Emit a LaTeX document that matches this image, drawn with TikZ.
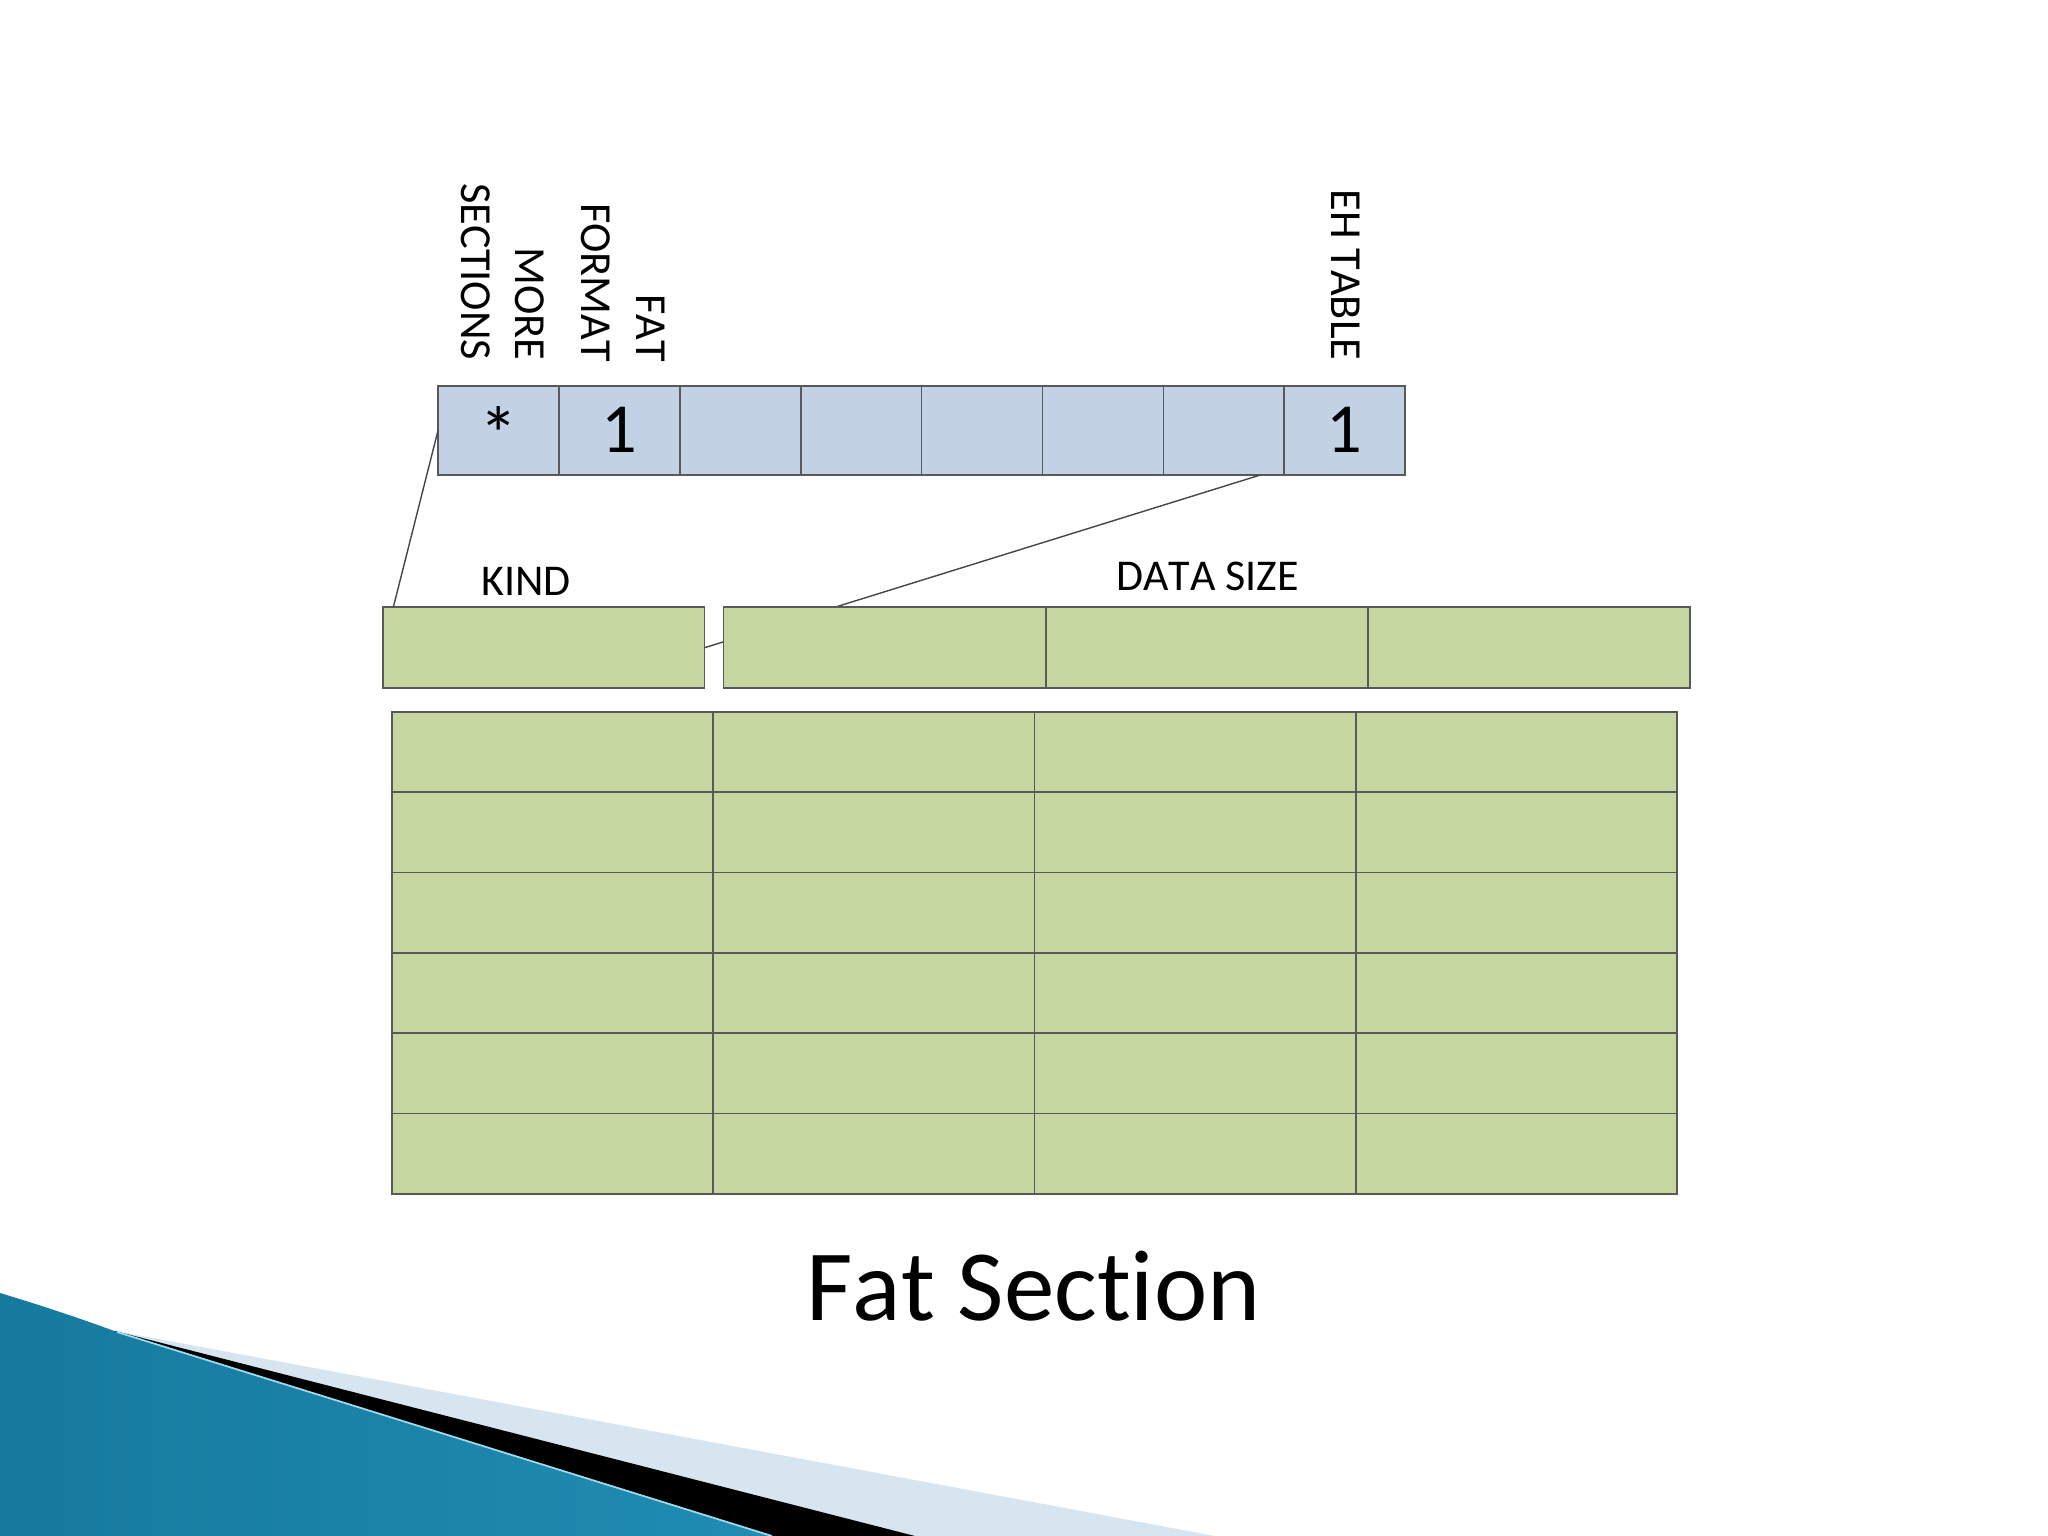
\documentclass[tikz,border=0pt]{standalone}
\usepackage{fontspec}
\setmainfont{Carlito}[Ligatures=NoCommon, Kerning=Off]
\usetikzlibrary{calc}
\definecolor{cellblue}{RGB}{194,209,227}
\definecolor{cellgreen}{RGB}{198,214,160}
\definecolor{bandblue}{RGB}{214,229,239}
\definecolor{tealdark}{RGB}{22,122,158}
\definecolor{teallight}{RGB}{92,194,226}
\definecolor{tealmid}{RGB}{32,140,178}
\definecolor{linegray}{RGB}{70,70,70}
\begin{document}
\begin{tikzpicture}[x=0.01cm,y=-0.01cm,
  bcell/.style={draw=black!65, fill=cellblue, line width=0.5pt, minimum width=1.209cm, minimum height=0.89cm, inner sep=0pt, outer sep=0pt, anchor=north west},
  gcell/.style={draw=black!65, fill=cellgreen, line width=0.5pt, minimum width=3.213cm, minimum height=0.8033cm, inner sep=0pt, outer sep=0pt, anchor=north west},
  vlab/.style={rotate=-90, anchor=base east, inner sep=0pt, font=\fontsize{12.6}{15}\selectfont},
  hlab/.style={anchor=base, inner sep=0pt, font=\fontsize{12.5}{15}\selectfont},
  digit/.style={anchor=base, inner sep=0pt, font=\fontsize{20}{24}\selectfont},
  conn/.style={draw=linegray, line width=0.4pt},
]
% canvas
\fill[white] (0,0) rectangle (2048,1536);
\useasboundingbox (0,0) rectangle (2048,1536);

% decorative swoosh bottom-left
\fill[bandblue] (105,1329) -- (1215,1536) -- (0,1536) -- cycle;
\fill[black] (115,1331) -- (915,1536) -- (0,1536) -- cycle;
\shade[left color=tealdark, middle color=teallight, right color=tealmid]
  (0,1293) .. controls (50,1308) and (90,1322) .. (117,1332) -- (772,1536) -- (0,1536) -- cycle;
\draw[color=teallight!60!white, line width=0.5pt] (117,1332) -- (772,1536);

% top bar
\foreach \i in {1,...,8} {
  \node[bcell] (b\i) at ({438+(\i-1)*120.9},386) {};
}
\node[anchor=base, inner sep=0pt, font=\fontsize{22}{26}\selectfont] (star) at (b1.center |- 0,461) {*};
\node[digit] (one1) at (b2.center |- 0,452) {1};
\node[digit] (one2) at (b8.center |- 0,452) {1};

% vertical labels
\node[vlab] (lsec) at (461.7,361) {SECTIONS};
\node[vlab] (lmore) at (515,361) {MORE};
\node[vlab] (lform) at (581.7,362.7) {FORMAT};
\node[vlab] (lfat) at (636.7,362.7) {FAT};
\node[vlab] (leh) at (1331.7,361) {EH TABLE};

% connector running behind the lower boxes
\coordinate (hid) at (600,680.2);
\draw[conn] ($(b7.south west)!0.8!(b7.south east)$) -- (hid);

% KIND / DATA SIZE row
\node[gcell, minimum width=3.216cm, minimum height=0.806cm] (kind) at (382.7,607.3) {};
\foreach \i in {1,2,3} {
  \node[gcell, minimum width=3.222cm, minimum height=0.81cm] (d\i) at ({723.5+(\i-1)*322.2},607.3) {};
}
\node[hlab] (lkind) at (526,595) {KIND};
\node[hlab] (ldata) at (1207.7,590.7) {DATA SIZE};

% left connector
\draw[conn] (b1.west) -- ([xshift=0.106cm]kind.north west);

% big table
\foreach \r in {1,...,6} {
  \foreach \c in {1,...,4} {
    \node[gcell] (t\r\c) at ({391.8+(\c-1)*321.3},{711.8+(\r-1)*80.33}) {};
  }
}

% title
\node[anchor=base, inner sep=0pt, font=\fontsize{28.7}{34}\selectfont] (title) at (1033.5,1320.7) {Fat Section};
\end{tikzpicture}
\end{document}
